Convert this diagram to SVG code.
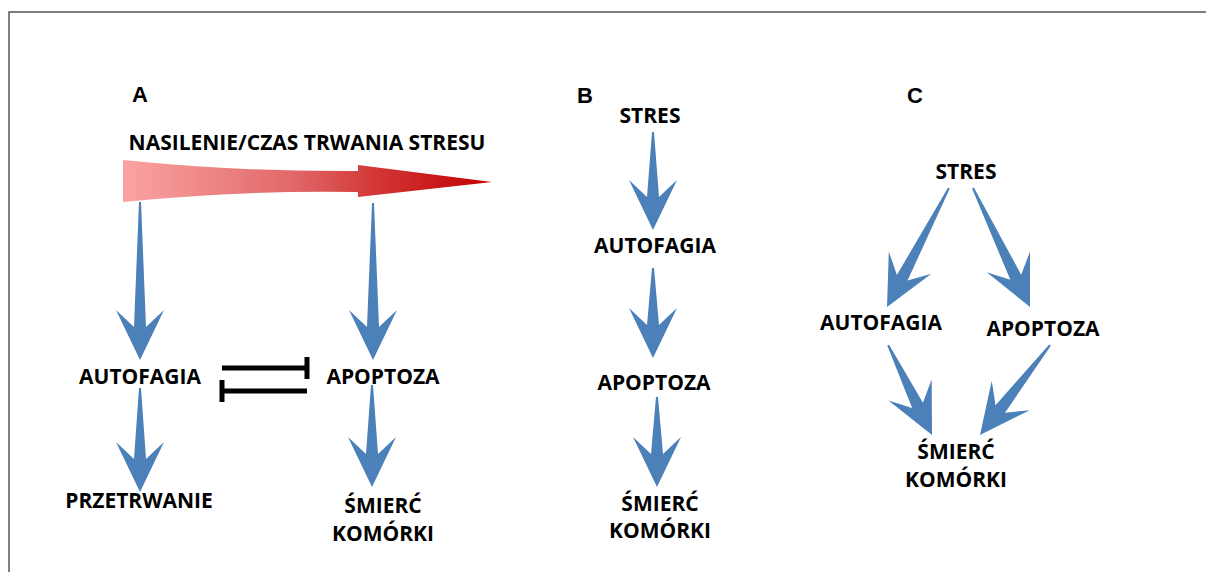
<svg xmlns="http://www.w3.org/2000/svg" width="1206" height="572" viewBox="0 0 1206 572">
<defs>
<linearGradient id="redGrad" x1="123" y1="0" x2="492" y2="0" gradientUnits="userSpaceOnUse">
<stop offset="0" stop-color="#FAA3A3"/>
<stop offset="0.45" stop-color="#E26A6A"/>
<stop offset="0.7" stop-color="#D23434"/>
<stop offset="1" stop-color="#C00000"/>
</linearGradient>
</defs>
<style>
.lbl{font-family:"Open Sans","DejaVu Sans",sans-serif;font-weight:bold;font-size:21px;fill:#000;text-anchor:middle}
.pan{font-family:"Liberation Sans",Arial,sans-serif;font-weight:bold;font-size:22px;fill:#000;text-anchor:middle}
.arr{fill:#4B80B9}
.inh{stroke:#000;stroke-width:5;fill:none}
.frame{stroke:#555;stroke-width:1.5;fill:none}
</style>
<rect width="1206" height="572" fill="#fff"/>
<path class="frame" d="M9,572 L9,12 L1206,12"/>

<g id="panel-labels">
<text class="pan" x="140" y="102">A</text>
<text class="pan" x="585" y="103">B</text>
<text class="pan" x="915" y="103">C</text>
</g>

<g id="stress-gradient">
<text class="lbl" x="307" y="150">NASILENIE/CZAS TRWANIA STRESU</text>
<path fill="url(#redGrad)" d="M123,160 Q240,172 358,171 L358,165 L492,182 L358,197 L358,192 Q240,190 123,202 Z"/>
</g>

<g id="nodeA-autofagia"><text class="lbl" x="140" y="384">AUTOFAGIA</text></g>
<g id="nodeA-apoptoza"><text class="lbl" x="383" y="384">APOPTOZA</text></g>
<g id="nodeA-przetrwanie"><text class="lbl" x="139" y="508">PRZETRWANIE</text></g>
<g id="nodeA-smierc"><text class="lbl" x="383" y="513">ŚMIERĆ</text><text class="lbl" x="383" y="541">KOMÓRKI</text></g>

<g id="nodeB-stres"><text class="lbl" x="650" y="123">STRES</text></g>
<g id="nodeB-autofagia"><text class="lbl" x="655" y="253">AUTOFAGIA</text></g>
<g id="nodeB-apoptoza"><text class="lbl" x="654" y="390">APOPTOZA</text></g>
<g id="nodeB-smierc"><text class="lbl" x="660" y="511">ŚMIERĆ</text><text class="lbl" x="660" y="538">KOMÓRKI</text></g>

<g id="nodeC-stres"><text class="lbl" x="966" y="179">STRES</text></g>
<g id="nodeC-autofagia"><text class="lbl" x="881" y="330">AUTOFAGIA</text></g>
<g id="nodeC-apoptoza"><text class="lbl" x="1043" y="336">APOPTOZA</text></g>
<g id="nodeC-smierc"><text class="lbl" x="956" y="459">ŚMIERĆ</text><text class="lbl" x="956" y="487">KOMÓRKI</text></g>

<g id="connectors">
<path class="arr" transform="translate(140,360)" d="M-1,-158 L1,-158 L6,-33 L24,-50 L0,0 L-24,-50 L-6,-33 Z"/>
<path class="arr" transform="translate(373,360)" d="M-1,-157 L1,-157 L6,-33 L24,-50 L0,0 L-24,-50 L-6,-33 Z"/>
<path class="arr" transform="translate(140,492)" d="M-1,-104 L1,-104 L6,-33 L24,-50 L0,0 L-24,-50 L-6,-33 Z"/>
<path class="arr" transform="translate(372,487)" d="M-1,-102 L1,-102 L6,-33 L24,-50 L0,0 L-24,-50 L-6,-33 Z"/>
<path class="arr" transform="translate(653,230)" d="M-1,-98 L1,-98 L6,-33 L24,-50 L0,0 L-24,-50 L-6,-33 Z"/>
<path class="arr" transform="translate(653,358)" d="M-1,-90 L1,-90 L6,-33 L24,-50 L0,0 L-24,-50 L-6,-33 Z"/>
<path class="arr" transform="translate(657,487)" d="M-1,-90 L1,-90 L6,-33 L24,-50 L0,0 L-24,-50 L-6,-33 Z"/>
<path class="arr" transform="translate(887,307) rotate(27.5)" d="M-1,-134 L1,-134 L6,-33 L24,-50 L0,0 L-24,-50 L-6,-33 Z"/>
<path class="arr" transform="translate(1030,307) rotate(-25.6)" d="M-1,-132 L1,-132 L6,-33 L24,-50 L0,0 L-24,-50 L-6,-33 Z"/>
<path class="arr" transform="translate(932,435) rotate(-26)" d="M-1,-100 L1,-100 L6,-33 L24,-50 L0,0 L-24,-50 L-6,-33 Z"/>
<path class="arr" transform="translate(980,435) rotate(37.9)" d="M-1,-114 L1,-114 L6,-33 L24,-50 L0,0 L-24,-50 L-6,-33 Z"/>
<path class="inh" d="M222,368 L307,368 M307,357 L307,379"/>
<path class="inh" d="M307,391 L222,391 M222,380 L222,402"/>
</g>
</svg>
